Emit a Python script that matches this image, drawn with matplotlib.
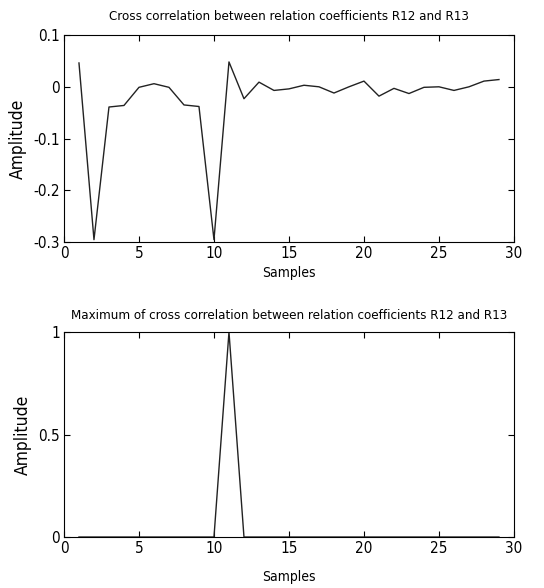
import numpy as np
import matplotlib.pyplot as plt

# samples and amplitudes
samples = np.arange(1, 30)
xcorr = [0.046, -0.295, -0.039, -0.036, -0.001, 0.006, -0.001, -0.035, -0.038,
         -0.295, 0.048, -0.023, 0.009, -0.007, -0.004, 0.003, 0.0, -0.012, 0.0,
         0.011, -0.018, -0.003, -0.013, -0.001, 0.0, -0.007, 0.0, 0.011, 0.014]
xcorr_max = [0, 0, 0, 0, 0, 0, 0, 0, 0, 0, 1, 0, 0, 0, 0, 0, 0, 0, 0, 0,
             0, 0, 0, 0, 0, 0, 0, 0, 0]

top_title = 'Cross correlation between relation coefficients R12 and R13'
bot_title = 'Maximum of cross correlation between relation coefficients R12 and R13'

plt.rcParams['font.family'] = ['DejaVu Sans']
plt.rcParams['font.stretch'] = 'condensed'
plt.rcParams['font.size'] = 9.5

fig = plt.figure(figsize=(5.44, 5.88), dpi=100)
ax1 = fig.add_axes([0.1176, 0.588, 0.8272, 0.3525])
ax2 = fig.add_axes([0.1176, 0.0867, 0.8272, 0.3487])

#%% top plot
ax1.plot(samples, xcorr, color='#222222', lw=1.0)
ax1.set_xlim(0, 30)
ax1.set_ylim(-0.3, 0.1)
ax1.set_yticks([-0.3, -0.2, -0.1, 0, 0.1])
ax1.set_yticklabels(['-0.3', '-0.2', '-0.1', '0', '0.1'])
ax1.set_title(top_title, fontsize=9.5, pad=11)
ax1.set_xlabel('Samples', fontsize=10, labelpad=3)
ax1.set_ylabel('Amplitude', fontsize=12.5)
ax1.yaxis.set_label_coords(-0.082, 0.5)

#%% bottom plot
ax2.plot(samples, xcorr_max, color='#222222', lw=1.0)
ax2.set_xlim(0, 30)
ax2.set_ylim(0, 1)
ax2.set_yticks([0, 0.5, 1])
ax2.set_yticklabels(['0', '0.5', '1'])
ax2.set_title(bot_title, fontsize=9.5, pad=9)
ax2.set_xlabel('Samples', fontsize=10, labelpad=10)
ax2.set_ylabel('Amplitude', fontsize=12.5)
ax2.yaxis.set_label_coords(-0.071, 0.5)

for ax in (ax1, ax2):
    ax.set_xticks(np.arange(0, 31, 5))
    ax.tick_params(direction='in', top=True, right=True, length=4, width=0.8,
                   labelsize=11, pad=3)
    for s in ax.spines.values():
        s.set_linewidth(0.8)

fig.savefig('out.png', dpi=100)
